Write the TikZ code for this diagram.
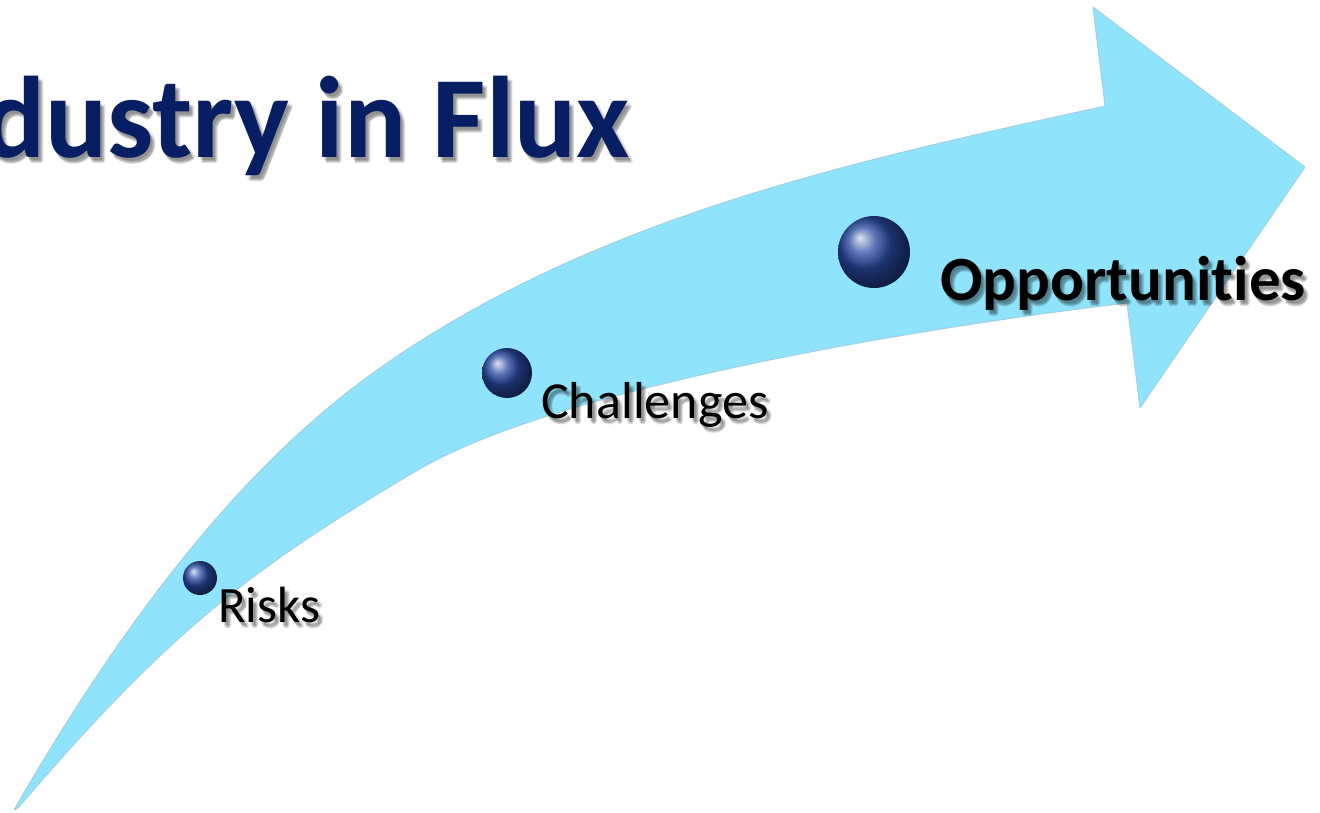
\documentclass[tikz,border=0pt]{standalone}
\usepackage{fontspec}
\setmainfont{Carlito}[Ligatures=NoCommon]
\definecolor{arrowfill}{RGB}{143,227,250}
\definecolor{arrowedge}{RGB}{160,210,228}
\definecolor{navy}{RGB}{8,30,98}
\definecolor{ballblue}{RGB}{40,72,160}
\tikzset{
  lbl/.style={inner sep=0pt, anchor=base west, text=black},
  shadowtxt/.style={inner sep=0pt, text=black, opacity=0.13},
  sphere/.style={shading=ball, ball color=ballblue}
}
\begin{document}
\begin{tikzpicture}[x=1pt,y=-1pt]
\useasboundingbox (0,0) rectangle (1320,813);
\clip (0,0) rectangle (1320,813);
% arrow
\draw[fill=arrowfill, draw=arrowedge, line width=1pt, line join=round]
  (14,810) .. controls (134,601) and (253,459) .. (373,373)
  .. controls (593,215) and (865,159) .. (1105,106)
  -- (1093,7) -- (1305,167) -- (1140,408) -- (1127,303)
  .. controls (957,323) and (568,382) .. (418,470)
  .. controls (248,570) and (168,633) .. (18,808)
  -- cycle;
% title
\foreach \dx/\dy in {2/3,3/5,5/4,4/6}{
  \node[shadowtxt, anchor=base east, font=\fontsize{116}{130}\selectfont\bfseries] at (630+\dx,158+\dy) {Industry in Flux};
}
\node[inner sep=0pt, anchor=base east, text=navy, font=\fontsize{116}{130}\selectfont\bfseries] (title) at (630,158) {Industry in Flux};
% spheres
\shade[sphere] (200,578) circle (17);
\shade[sphere] (507,373) circle (25);
\shade[sphere] (874,252) circle (36);
\node[inner sep=0pt, minimum size=34pt, circle] (s1) at (200,578) {};
\node[inner sep=0pt, minimum size=50pt, circle] (s2) at (507,373) {};
\node[inner sep=0pt, minimum size=72pt, circle] (s3) at (874,252) {};
% labels with soft shadows
\foreach \dx/\dy in {2/3,3/5,5/4,4/6}{
  \node[shadowtxt, anchor=base west, font=\fontsize{51}{60}\selectfont] at (218+\dx,622+\dy) {Risks};
  \node[shadowtxt, anchor=base west, font=\fontsize{52}{60}\selectfont] at (541+\dx,418+\dy) {Challenges};
  \node[shadowtxt, anchor=base west, font=\fontsize{63}{72}\selectfont\bfseries] at (940+\dx,300+\dy) {Opportunities};
}
\node[lbl, font=\fontsize{51}{60}\selectfont] (risks) at (218,622) {Risks};
\node[lbl, font=\fontsize{52}{60}\selectfont] (chal) at (541,418) {Challenges};
\node[lbl, font=\fontsize{63}{72}\selectfont\bfseries] (opp) at (940,300) {Opportunities};
\end{tikzpicture}
\end{document}
